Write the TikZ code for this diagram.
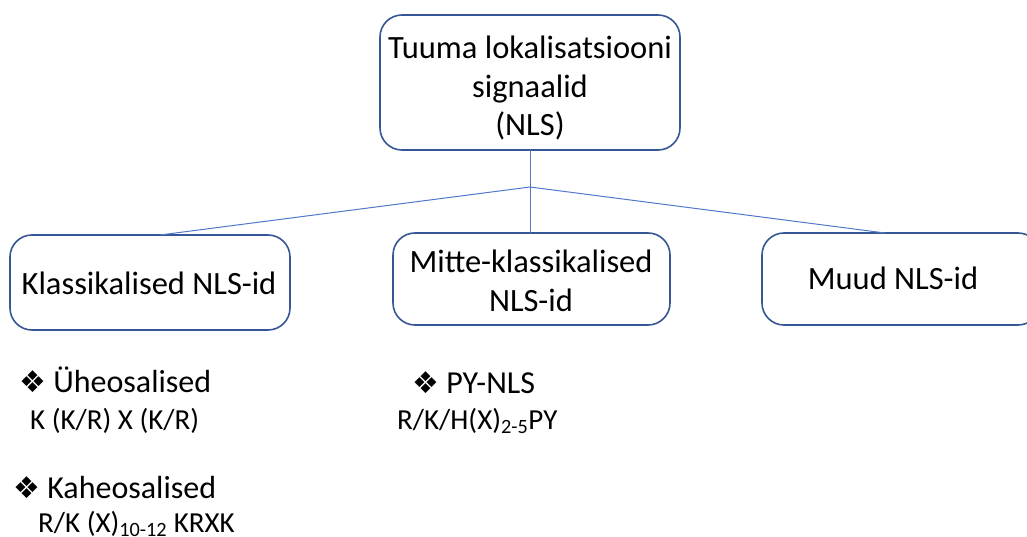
\documentclass[tikz,border=0pt]{standalone}
\usepackage{fontspec}
\setmainfont{Carlito}
\newfontfamily\symfont{DejaVu Sans}
\definecolor{boxblue}{RGB}{54,86,150}
\definecolor{lineblue}{RGB}{80,120,200}
\tikzset{
  box/.style={draw=boxblue, line width=1.6pt, rounded corners=22pt, fill=white},
  conn/.style={draw=lineblue, line width=1pt},
  lbl/.style={font=\fontsize{32.5}{38.5}\selectfont, align=center, inner sep=0pt},
  head/.style={font=\fontsize{32}{36}\selectfont, anchor=base west, inner sep=0pt},
  sub/.style={font=\fontsize{29}{32}\selectfont, anchor=base west, inner sep=0pt},
}
\newcommand{\bul}{{\symfont\fontsize{30}{30}\selectfont ❖}}
\begin{document}
\begin{tikzpicture}[x=1pt,y=-1pt]
\useasboundingbox (0,0) rectangle (1027,537);
\clip (0,0) rectangle (1027,537);
% boxes
\draw[box] (380,15) rectangle (680,150);
\node[lbl] (top) at (530,88) {Tuuma lokalisatsiooni\\signaalid\\(NLS)};
\coordinate (topb) at (530,150);
\draw[box] (10,235) rectangle (290,330);
\node[lbl] (k) at (149,283) {Klassikalised NLS-id};
\coordinate (kt) at (160,235);
\draw[box] (393,233) rectangle (670,325);
\node[lbl] (m) at (531,281) {Mitte-klassikalised\\NLS-id};
\coordinate (mt) at (530,233);
\draw[box] (762,233) rectangle (1040,325);
\node[lbl] (u) at (893,278) {Muud NLS-id};
\coordinate (ut) at (885,233);
% connectors
\coordinate (j) at (530,187);
\draw[conn] (topb) -- (j);
\draw[conn] (j) -- (kt);
\draw[conn] (j) -- (mt);
\draw[conn] (j) -- (ut);
% bullets
\node[head] (b1) at (19,392) {\bul\ Üheosalised};
\node[sub] (s1) at (30,429) {K (K/R) X (K/R)};
\node[head] (b2) at (13,498) {\bul\ Kaheosalised};
\node[sub] (s2) at (38,532) {R/K (X)\textsubscript{10-12} KRXK};
\node[head] (b3) at (412,393) {\bul\ PY-NLS};
\node[sub] (s3) at (397,429) {R/K/H(X)\textsubscript{2-5}PY};
\end{tikzpicture}
\end{document}
